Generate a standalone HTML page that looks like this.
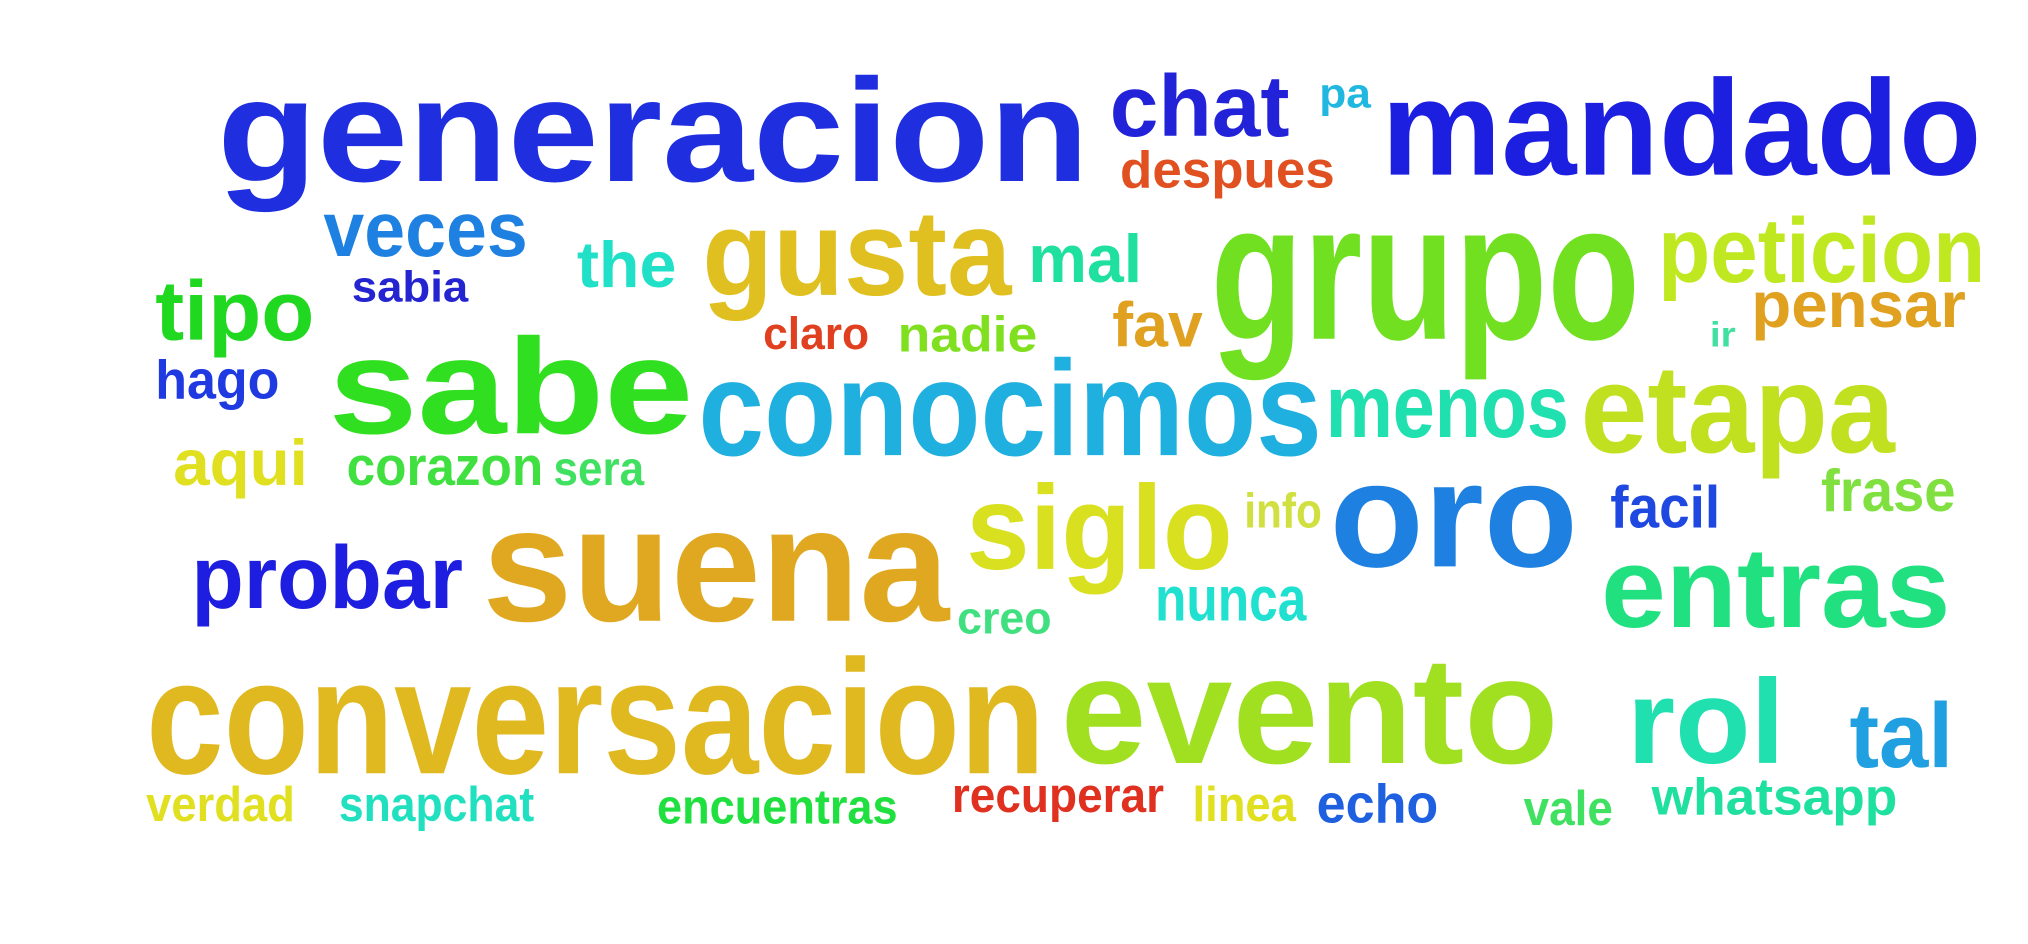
<!DOCTYPE html>
<html><head><meta charset="utf-8">
<style>
html,body{margin:0;padding:0;background:#fff;width:2028px;height:944px;overflow:hidden}
svg{display:block}
text{font-family:"Liberation Sans Narrow","Liberation Sans",sans-serif;font-weight:bold}
</style></head>
<body>
<svg id="cloud" width="2028" height="944" viewBox="0 0 1568 730" preserveAspectRatio="none" xmlns="http://www.w3.org/2000/svg"></svg>
<script>
const words = ["generacion","mandado","chat","pa","despues","veces","the","gusta","mal","grupo","peticion","tipo","sabia","claro","nadie","fav","pensar","ir","hago","sabe","conocimos","menos","etapa","aqui","corazon","sera","siglo","info","oro","facil","frase","probar","suena","nunca","creo","entras","conversacion","evento","rol","tal","verdad","snapchat","encuentras","recuperar","linea","echo","vale","whatsapp"];
const xLeft = [168,1068,858,1020,866,250,446,543,795,936,1282,120,272,590,694,860,1354,1322,120,254,540,1025,1222,134,268,428,747,962,1028,1245,1408,148,373,893,740,1238,113,820,1258,1430,113,262,508,736,922,1018,1178,1277];
const xRight = [842,1532,997,1060,1032,408,523,782,883,1268,1535,243,362,672,802,930,1520,1342,216,536,1022,1213,1465,238,420,498,953,1022,1220,1330,1512,358,734,1010,813,1508,808,1205,1380,1510,228,413,694,900,1002,1112,1247,1467];
const baselines = [140,135,105,83,145,198,222,228,218,262,218,263,233,270,272,268,253,268,308,335,352,338,350,375,375,375,440,408,438,408,395,470,480,480,490,485,598,590,590,593,635,635,637,628,635,636,638,630];
const sizes = [135,125,80,38,48,72,60,112,62,180,85,78,40,42,46,58,60,32,50,125,125,82,115,60,50,44,110,45,138,55,55,82,150,58,42,105,150,140,110,85,45,45,45,45,45,50,45,48];
const colors = ["#1f2fe0","#1c1ee0","#2222d8","#20b8e0","#e05020","#1e80e0","#20e0c8","#e0c020","#20e0a0","#70e020","#c0e820","#20d820","#2424d0","#e04020","#80e020","#e0a020","#e0a020","#40e0a0","#1e3ae0","#30e020","#20b0e0","#20e0b0","#c0e020","#e0e020","#40e040","#40e060","#d8e020","#d0e040","#1e80e0","#1e48e0","#80e040","#1e1ee0","#e0a820","#20e0d0","#40e080","#20e080","#e0b820","#a0e020","#20e0b0","#20a0e0","#e0e020","#20e0c0","#20e040","#e03020","#e0e020","#1e60e0","#40e060","#20e0a0"];
const sizeScale = 0.84;

const svg = document.getElementById('cloud');
const NS = 'http://www.w3.org/2000/svg';
words.forEach((w, i) => {
  const t = document.createElementNS(NS, 'text');
  t.setAttribute('x', xLeft[i]);
  t.setAttribute('y', baselines[i]);
  t.setAttribute('font-size', sizes[i] * sizeScale);
  t.setAttribute('fill', colors[i]);
  t.setAttribute('textLength', xRight[i] - xLeft[i]);
  t.setAttribute('lengthAdjust', 'spacingAndGlyphs');
  
  
  t.textContent = w;
  svg.appendChild(t);
});
</script>
</body></html>
